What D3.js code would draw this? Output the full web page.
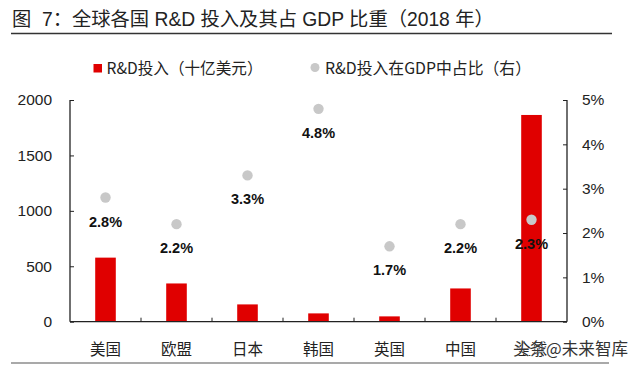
<!DOCTYPE html>
<html>
<head>
<meta charset="utf-8">
<script src="https://cdn.jsdelivr.net/npm/d3@7/dist/d3.min.js"></script>
<style>
html,body{margin:0;padding:0;background:#fff;}
svg{display:block;}
</style>
</head>
<body>
<svg id="chart" width="640" height="368"></svg>
<script>
const categories = ["美国","欧盟","日本","韩国","英国","中国","全球"];
const rdSpend = [578, 345, 156, 75, 48, 300, 1865];
const rdShare = [2.8, 2.2, 3.3, 4.8, 1.7, 2.2, 2.3];
const leftTicks = [0, 500, 1000, 1500, 2000];
const rightTicks = [0, 1, 2, 3, 4, 5];
const titleText = "图  7：全球各国 R&D 投入及其占 GDP 比重（2018 年）";
const legendLabels = ["R&D投入（十亿美元）", "R&D投入在GDP中占比（右）"];
const watermark = "头条@未来智库";

const svg = d3.select("#chart");
const arialCjk = "'Liberation Sans', Arial, 'Noto Sans CJK SC', sans-serif";
const yahei = "'Noto Sans CJK SC', 'Microsoft YaHei', sans-serif";
const m = {left: 70, right: 567, top: 100, bottom: 321.7};

// title
svg.append("text").attr("x", 12).attr("y", 25.5)
  .style("white-space", "pre")
  .attr("font-family", arialCjk).attr("font-size", 19.3).attr("fill", "#222")
  .text(titleText);
svg.append("line").attr("x1", 11).attr("x2", 612).attr("y1", 33.5).attr("y2", 33.5)
  .attr("stroke", "#333").attr("stroke-width", 1.6);
svg.append("line").attr("x1", 11).attr("x2", 609).attr("y1", 363).attr("y2", 363)
  .attr("stroke", "#555").attr("stroke-width", 1.2);

// scales
const x = d3.scaleBand().domain(categories).range([m.left, m.right]).paddingInner(0.71).paddingOuter(0.355);
const xb = d3.scaleBand().domain(categories).range([m.left, m.right]);
const yL = d3.scaleLinear().domain([0, 2000]).range([m.bottom, m.top]);
const yR = d3.scaleLinear().domain([0, 5]).range([m.bottom, m.top]);

// legend
const lg = svg.append("g");
lg.append("rect").attr("x", 93.5).attr("y", 64).attr("width", 8.5).attr("height", 8.5).attr("fill", "#e00000");
lg.append("text").attr("x", 106.5).attr("y", 73.5).attr("font-family", yahei).attr("font-size", 16).attr("fill", "#222")
  .attr("textLength", 156).attr("lengthAdjust", "spacingAndGlyphs").text(legendLabels[0]);
lg.append("circle").attr("cx", 315).attr("cy", 67.5).attr("r", 4.5).attr("fill", "#c8c8c8");
lg.append("text").attr("x", 325).attr("y", 73.5).attr("font-family", yahei).attr("font-size", 16).attr("fill", "#222")
  .attr("textLength", 206).attr("lengthAdjust", "spacingAndGlyphs").text(legendLabels[1]);

// bars
svg.append("g").selectAll("rect").data(categories).join("rect")
  .attr("x", d => x(d))
  .attr("width", x.bandwidth())
  .attr("y", (d, i) => yL(rdSpend[i]))
  .attr("height", (d, i) => yL(0) - yL(rdSpend[i]))
  .attr("fill", "#e00000");

// axes
const axL = d3.axisLeft(yL).tickValues(leftTicks).tickSize(-4).tickPadding(18).tickFormat(d3.format("d"));
const gL = svg.append("g").attr("transform", `translate(${m.left},0)`).call(axL);
const axR = d3.axisRight(yR).tickValues(rightTicks).tickSize(-4).tickPadding(15).tickFormat(d => d + "%");
const gR = svg.append("g").attr("transform", `translate(${m.right},0)`).call(axR);
const axB = d3.axisBottom(xb).tickValues([]).tickSize(0);
const gB = svg.append("g").attr("transform", `translate(0,${m.bottom})`).call(axB);
gB.selectAll("line.bt").data(categories.slice(1)).join("line").attr("class", "bt")
  .attr("x1", d => xb(d)).attr("x2", d => xb(d)).attr("y1", 0).attr("y2", -4)
  .attr("stroke", "#222");
[gL, gR, gB].forEach(g => {
  g.select(".domain").attr("stroke", "#222").attr("stroke-width", 1.3);
  g.selectAll(".tick line").attr("stroke", "#222");
  g.selectAll(".tick text").attr("font-family", arialCjk).attr("font-size", 15.5).attr("fill", "#222");
});
gL.select(".domain").attr("d", `M0,${m.top}V${m.bottom}`);
gR.select(".domain").attr("d", `M0,${m.top}V${m.bottom}`);
gB.select(".domain").attr("d", `M${m.left},0H${m.right}`);

// category labels
svg.append("g").selectAll("text").data(categories).join("text")
  .attr("x", d => xb(d) + xb.bandwidth() / 2)
  .attr("y", 355)
  .attr("text-anchor", "middle")
  .attr("font-family", yahei).attr("font-size", 15.5).attr("fill", "#222")
  .text(d => d);

// dots and labels
const dots = svg.append("g");
dots.selectAll("circle").data(categories).join("circle")
  .attr("cx", d => xb(d) + xb.bandwidth() / 2)
  .attr("cy", (d, i) => yR(rdShare[i]))
  .attr("r", 5.2)
  .attr("fill", "#c8c8c8");
dots.selectAll("text").data(categories).join("text")
  .attr("x", d => xb(d) + xb.bandwidth() / 2)
  .attr("y", (d, i) => yR(rdShare[i]) + 29)
  .attr("text-anchor", "middle")
  .attr("font-family", arialCjk).attr("font-size", 14.5).attr("font-weight", "bold").attr("fill", "#111")
  .text((d, i) => d3.format(".1f")(rdShare[i]) + "%");

// watermark
svg.append("text").attr("x", 513).attr("y", 355)
  .attr("font-family", yahei).attr("font-size", 16.5).attr("fill", "#333")
  .attr("stroke", "#fff").attr("stroke-width", 0.6).attr("paint-order", "stroke")
  .attr("textLength", 115).attr("lengthAdjust", "spacingAndGlyphs")
  .text(watermark);
</script>
</body>
</html>
